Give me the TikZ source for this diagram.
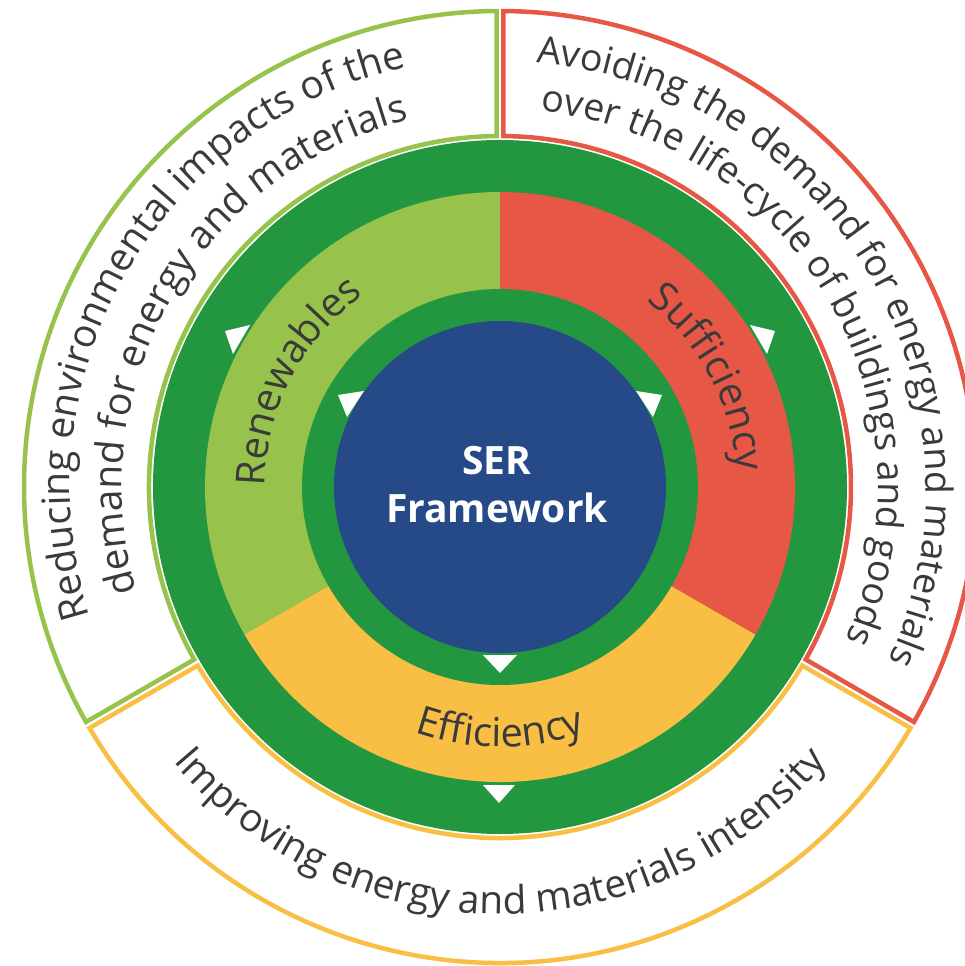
\documentclass[tikz,border=0pt]{standalone}
\usepackage{fontspec}
\setmainfont{Open Sans}
\usetikzlibrary{decorations.text}

\definecolor{ringgreen}{RGB}{35,151,64}
\definecolor{renewgreen}{RGB}{151,195,76}
\definecolor{suffred}{RGB}{231,87,70}
\definecolor{effyellow}{RGB}{249,191,69}
\definecolor{serblue}{RGB}{38,74,136}
\definecolor{txtgray}{RGB}{58,58,58}

\newcommand{\outerfont}{\fontsize{39}{47}\selectfont}
\newcommand{\outerfontsm}{\fontsize{37.5}{45}\selectfont}
\newcommand{\sectorfont}{\fontsize{40}{48}\selectfont}

% white band with a coloured rim, from angle #1 to #2
\newcommand{\outerseg}[3]{%
  \draw[ring, draw=#3]
    ({#1+asin(3.5/351)}:351) -- ({#1+asin(3.5/476)}:476)
    arc[start angle={#1+asin(3.5/476)}, end angle={#2-asin(3.5/476)}, radius=476]
    -- ({#2-asin(3.5/351)}:351)
    arc[start angle={#2-asin(3.5/351)}, end angle={#1+asin(3.5/351)}, radius=351] -- cycle;}

\begin{document}
\begin{tikzpicture}[x=1pt, y=1pt,
    ring/.style={line width=4.5pt, fill=white, line join=miter},
    tri/.style={fill=white},
    arctext/.style={decorate, decoration={text along path, text align=center,
        text color=txtgray, text={#1}}}]
    \useasboundingbox (-500,-479) rectangle (465,487);

    % outer bands
    \fill[ringgreen] (0,0) circle[radius=347];
    \outerseg{90}{210}{renewgreen}
    \outerseg{210}{330}{effyellow}
    \outerseg{-30}{90}{suffred}

    % the three sectors
    \fill[renewgreen] (0,0) -- (90:295) arc[start angle=90, end angle=210, radius=295] -- cycle;
    \fill[effyellow] (0,0) -- (210:295) arc[start angle=210, end angle=330, radius=295] -- cycle;
    \fill[suffred] (0,0) -- (-30:295) arc[start angle=-30, end angle=90, radius=295] -- cycle;
    \fill[tri] (-250,162) -- (-275,156) -- (-267,133) -- cycle;
    \fill[tri] (250,162) -- (275,156) -- (267,133) -- cycle;
    \fill[tri] (-17,-298) -- (15,-298) -- (-1,-316) -- cycle;

    % core
    \fill[ringgreen] (0,0) circle[radius=198];
    \fill[serblue] (0,0) circle[radius=166];
    \fill[tri] (-162,92) -- (-136,96) -- (-153,70) -- cycle;
    \fill[tri] (162,92) -- (136,96) -- (153,70) -- cycle;
    \fill[tri] (-17,-168) -- (17,-168) -- (0,-186) -- cycle;

    \node[text=white, align=center, font=\fontsize{39}{48}\selectfont\bfseries] (ser) at (-3,2) {SER\\Framework};

    % sector labels
    \path[arctext={|\sectorfont|Renewables}] (212.6:235) arc[start angle=212.6, end angle=92.6, radius=235];
    \path[arctext={|\sectorfont|Sufficiency}] (87.7:237) arc[start angle=87.7, end angle=-32.3, radius=237];
    \path[arctext={|\sectorfont|Efficiency}] (210:260) arc[start angle=210, end angle=330, radius=260];

    % band texts
    \path[arctext={|\outerfont|Reducing environmental impacts of the}] (210:430) arc[start angle=210, end angle=90, radius=430];
    \path[arctext={|\outerfont|demand for energy and materials}] (210:378) arc[start angle=210, end angle=90, radius=378];
    \path[arctext={|\outerfontsm|Avoiding the demand for energy and materials}] (90.5:426) arc[start angle=90.5, end angle=-29.5, radius=426];
    \path[arctext={|\outerfontsm|over the life-cycle of buildings and goods}] (90:378) arc[start angle=90, end angle=-30, radius=378];
    \path[arctext={|\outerfont|Improving energy and materials intensity}] (210:427) arc[start angle=210, end angle=330, radius=427];
\end{tikzpicture}
\end{document}
